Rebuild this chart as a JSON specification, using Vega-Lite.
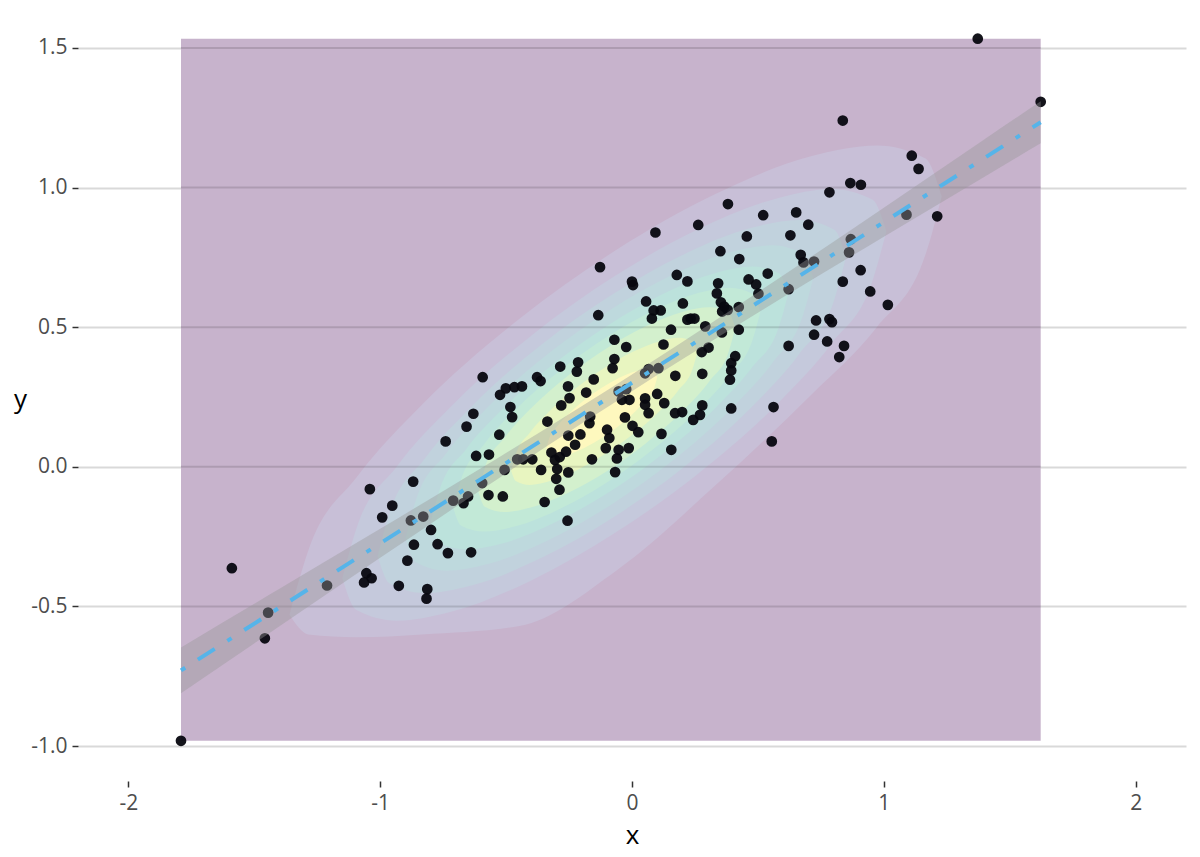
{
  "$schema": "https://vega.github.io/schema/vega-lite/v6.json",
  "width": 1108,
  "height": 768,
  "autosize": "none",
  "padding": {"left": 78, "top": 13, "right": 14, "bottom": 76},
  "background": "white",
  "config": {
    "view": {"stroke": null},
    "font": "Open Sans",
    "locale": {"number": {"decimal": ".", "thousands": ",", "grouping": [3], "currency": ["$", ""], "minus": "-"}},
    "axis": {
      "domain": false,
      "labelFont": "Open Sans",
      "titleFont": "Open Sans",
      "labelFontSize": 21,
      "labelColor": "#4D4D4D",
      "titleFontSize": 26,
      "titleFontWeight": "normal",
      "titleColor": "#000000",
      "tickColor": "#333333",
      "tickWidth": 1.5,
      "tickSize": 6,
      "labelPadding": 5,
      "gridColor": "#D9D9D9",
      "gridWidth": 2
    }
  },
  "datasets": {
    "pts": [
      {"x": 0.837, "y": 1.240}, {"x": 1.111, "y": 1.114}, {"x": 1.138, "y": 1.067}, {"x": 0.867, "y": 1.016},
      {"x": 0.909, "y": 1.010}, {"x": 0.784, "y": 0.983}, {"x": 0.381, "y": 0.941}, {"x": 0.521, "y": 0.901},
      {"x": 0.652, "y": 0.911}, {"x": 0.700, "y": 0.867}, {"x": 1.212, "y": 0.897}, {"x": 1.090, "y": 0.903},
      {"x": 0.263, "y": 0.866}, {"x": 0.093, "y": 0.839}, {"x": 0.456, "y": 0.825}, {"x": 0.629, "y": 0.829},
      {"x": 0.351, "y": 0.772}, {"x": 0.426, "y": 0.744}, {"x": 0.670, "y": 0.759}, {"x": 0.681, "y": 0.732},
      {"x": 0.723, "y": 0.735}, {"x": 0.869, "y": 0.815}, {"x": 0.862, "y": 0.768}, {"x": -0.127, "y": 0.715},
      {"x": 0.178, "y": 0.687}, {"x": 0.220, "y": 0.664}, {"x": 0.000, "y": 0.663}, {"x": 0.004, "y": 0.651},
      {"x": 0.539, "y": 0.692}, {"x": 0.463, "y": 0.671}, {"x": 0.493, "y": 0.653}, {"x": 0.502, "y": 0.620},
      {"x": 0.342, "y": 0.657}, {"x": 0.337, "y": 0.621}, {"x": 0.908, "y": 0.704}, {"x": 0.837, "y": 0.663},
      {"x": 0.946, "y": 0.628}, {"x": 1.016, "y": 0.580}, {"x": 0.622, "y": 0.636}, {"x": 0.056, "y": 0.592},
      {"x": 0.202, "y": 0.585}, {"x": 0.353, "y": 0.589}, {"x": 0.366, "y": 0.574}, {"x": 0.358, "y": 0.556},
      {"x": 0.380, "y": 0.562}, {"x": 0.424, "y": 0.572}, {"x": 0.086, "y": 0.560}, {"x": 0.114, "y": 0.560},
      {"x": 0.079, "y": 0.531}, {"x": -0.134, "y": 0.543}, {"x": 0.233, "y": 0.531}, {"x": 0.248, "y": 0.531},
      {"x": 0.220, "y": 0.527}, {"x": 0.291, "y": 0.503}, {"x": 0.357, "y": 0.481}, {"x": 0.424, "y": 0.491},
      {"x": 0.155, "y": 0.491}, {"x": 0.731, "y": 0.524}, {"x": 0.784, "y": 0.529}, {"x": 0.794, "y": 0.518},
      {"x": 0.723, "y": 0.473}, {"x": 0.775, "y": 0.449}, {"x": 0.842, "y": 0.433}, {"x": 0.823, "y": 0.393},
      {"x": 0.622, "y": 0.433}, {"x": -0.070, "y": 0.455}, {"x": -0.023, "y": 0.429}, {"x": 0.125, "y": 0.438},
      {"x": 0.304, "y": 0.427}, {"x": 0.277, "y": 0.411}, {"x": 0.410, "y": 0.396}, {"x": 0.394, "y": 0.371},
      {"x": 0.394, "y": 0.345}, {"x": 0.389, "y": 0.312}, {"x": -0.070, "y": 0.386}, {"x": -0.077, "y": 0.353},
      {"x": -0.214, "y": 0.374}, {"x": -0.219, "y": 0.341}, {"x": -0.285, "y": 0.359}, {"x": 0.066, "y": 0.350},
      {"x": 0.052, "y": 0.335}, {"x": 0.105, "y": 0.353}, {"x": 0.172, "y": 0.326}, {"x": 0.279, "y": 0.333},
      {"x": -0.152, "y": 0.313}, {"x": -0.593, "y": 0.321}, {"x": -0.377, "y": 0.321}, {"x": -0.363, "y": 0.307},
      {"x": -0.524, "y": 0.258}, {"x": -0.501, "y": 0.281}, {"x": -0.467, "y": 0.285}, {"x": -0.437, "y": 0.288},
      {"x": -0.254, "y": 0.288}, {"x": -0.248, "y": 0.246}, {"x": -0.182, "y": 0.266}, {"x": -0.053, "y": 0.270},
      {"x": -0.023, "y": 0.278}, {"x": -0.010, "y": 0.240}, {"x": -0.040, "y": 0.240}, {"x": 0.052, "y": 0.245},
      {"x": 0.052, "y": 0.222}, {"x": 0.066, "y": 0.192}, {"x": 0.100, "y": 0.261}, {"x": 0.128, "y": 0.228},
      {"x": 0.279, "y": 0.220}, {"x": 0.270, "y": 0.186}, {"x": 0.243, "y": 0.168}, {"x": 0.394, "y": 0.209},
      {"x": 0.562, "y": 0.214}, {"x": -0.483, "y": 0.214}, {"x": -0.476, "y": 0.178}, {"x": -0.630, "y": 0.190},
      {"x": -0.657, "y": 0.144}, {"x": -0.281, "y": 0.220}, {"x": -0.336, "y": 0.162}, {"x": -0.166, "y": 0.180},
      {"x": -0.169, "y": 0.156}, {"x": -0.028, "y": 0.177}, {"x": 0.171, "y": 0.192}, {"x": 0.199, "y": 0.196},
      {"x": -0.527, "y": 0.115}, {"x": -0.740, "y": 0.091}, {"x": -0.253, "y": 0.112}, {"x": -0.205, "y": 0.116},
      {"x": -0.226, "y": 0.079}, {"x": -0.099, "y": 0.133}, {"x": -0.090, "y": 0.103}, {"x": 0.002, "y": 0.147},
      {"x": 0.025, "y": 0.124}, {"x": 0.117, "y": 0.118}, {"x": -0.104, "y": 0.067}, {"x": -0.053, "y": 0.061},
      {"x": -0.013, "y": 0.067}, {"x": 0.156, "y": 0.061}, {"x": 0.555, "y": 0.091}, {"x": -0.619, "y": 0.039},
      {"x": -0.568, "y": 0.044}, {"x": -0.456, "y": 0.027}, {"x": -0.432, "y": 0.027}, {"x": -0.396, "y": 0.027},
      {"x": -0.320, "y": 0.051}, {"x": -0.306, "y": 0.025}, {"x": -0.287, "y": 0.035}, {"x": -0.262, "y": 0.054},
      {"x": -0.159, "y": 0.027}, {"x": -0.060, "y": 0.030}, {"x": -0.361, "y": -0.011}, {"x": -0.297, "y": -0.008},
      {"x": -0.253, "y": -0.020}, {"x": -0.301, "y": -0.043}, {"x": -0.067, "y": -0.019}, {"x": -0.506, "y": -0.011},
      {"x": -0.595, "y": -0.058}, {"x": -0.869, "y": -0.053}, {"x": -1.041, "y": -0.080}, {"x": -0.288, "y": -0.082},
      {"x": -0.570, "y": -0.101}, {"x": -0.513, "y": -0.106}, {"x": -0.651, "y": -0.106}, {"x": -0.669, "y": -0.130},
      {"x": -0.710, "y": -0.121}, {"x": -0.347, "y": -0.126}, {"x": -0.952, "y": -0.139}, {"x": -0.992, "y": -0.181},
      {"x": -0.878, "y": -0.192}, {"x": -0.829, "y": -0.178}, {"x": -0.798, "y": -0.226}, {"x": -0.256, "y": -0.193},
      {"x": -0.866, "y": -0.279}, {"x": -0.772, "y": -0.277}, {"x": -0.731, "y": -0.309}, {"x": -0.639, "y": -0.306},
      {"x": -0.892, "y": -0.336}, {"x": -1.055, "y": -0.381}, {"x": -1.034, "y": -0.399}, {"x": -1.064, "y": -0.414},
      {"x": -0.926, "y": -0.426}, {"x": -0.813, "y": -0.438}, {"x": -0.816, "y": -0.472}, {"x": -1.211, "y": -0.425},
      {"x": -1.445, "y": -0.522}, {"x": -1.458, "y": -0.614}, {"x": -1.791, "y": -0.981}, {"x": -1.589, "y": -0.363},
      {"x": 1.373, "y": 1.533}, {"x": 1.623, "y": 1.307}
    ],
    "contours": [
      {"l": 2, "x": -1.36, "lo": -0.53, "hi": -0.53}, {"l": 2, "x": -1.2855, "lo": -0.6, "hi": -0.3},
      {"l": 2, "x": -1.092, "lo": -0.61, "hi": -0.036}, {"l": 2, "x": -0.834, "lo": -0.6, "hi": 0.222},
      {"l": 2, "x": -0.447, "lo": -0.57, "hi": 0.53}, {"l": 2, "x": -0.06, "lo": -0.37, "hi": 0.778},
      {"l": 2, "x": 0.327, "lo": -0.07, "hi": 0.975}, {"l": 2, "x": 0.714, "lo": 0.26, "hi": 1.113},
      {"l": 2, "x": 0.972, "lo": 0.5, "hi": 1.151}, {"l": 2, "x": 1.1655, "lo": 0.76, "hi": 1.104},
      {"l": 2, "x": 1.23, "lo": 0.969, "hi": 0.969},

      {"l": 3, "x": -1.15, "lo": -0.399, "hi": -0.399}, {"l": 3, "x": -1.096, "lo": -0.512, "hi": -0.225},
      {"l": 3, "x": -0.934, "lo": -0.551, "hi": 0.001}, {"l": 3, "x": -0.718, "lo": -0.519, "hi": 0.217},
      {"l": 3, "x": -0.394, "lo": -0.404, "hi": 0.474}, {"l": 3, "x": -0.07, "lo": -0.238, "hi": 0.682},
      {"l": 3, "x": 0.254, "lo": -0.031, "hi": 0.847}, {"l": 3, "x": 0.578, "lo": 0.226, "hi": 0.962},
      {"l": 3, "x": 0.794, "lo": 0.443, "hi": 0.995}, {"l": 3, "x": 0.956, "lo": 0.669, "hi": 0.956},
      {"l": 3, "x": 1.01, "lo": 0.843, "hi": 0.843},

      {"l": 4, "x": -1.01, "lo": -0.319, "hi": -0.319}, {"l": 4, "x": -0.9635, "lo": -0.417, "hi": -0.167},
      {"l": 4, "x": -0.824, "lo": -0.452, "hi": 0.028}, {"l": 4, "x": -0.638, "lo": -0.425, "hi": 0.215},
      {"l": 4, "x": -0.359, "lo": -0.326, "hi": 0.438}, {"l": 4, "x": -0.08, "lo": -0.184, "hi": 0.616},
      {"l": 4, "x": 0.199, "lo": -0.006, "hi": 0.758}, {"l": 4, "x": 0.478, "lo": 0.217, "hi": 0.857},
      {"l": 4, "x": 0.664, "lo": 0.404, "hi": 0.884}, {"l": 4, "x": 0.8035, "lo": 0.599, "hi": 0.849},
      {"l": 4, "x": 0.85, "lo": 0.751, "hi": 0.751},

      {"l": 5, "x": -0.9, "lo": -0.256, "hi": -0.256}, {"l": 5, "x": -0.8595, "lo": -0.341, "hi": -0.123},
      {"l": 5, "x": -0.738, "lo": -0.372, "hi": 0.048}, {"l": 5, "x": -0.576, "lo": -0.349, "hi": 0.211},
      {"l": 5, "x": -0.333, "lo": -0.263, "hi": 0.405}, {"l": 5, "x": -0.09, "lo": -0.14, "hi": 0.56},
      {"l": 5, "x": 0.153, "lo": 0.016, "hi": 0.684}, {"l": 5, "x": 0.396, "lo": 0.21, "hi": 0.77},
      {"l": 5, "x": 0.558, "lo": 0.373, "hi": 0.793}, {"l": 5, "x": 0.6795, "lo": 0.544, "hi": 0.762},
      {"l": 5, "x": 0.72, "lo": 0.676, "hi": 0.676},

      {"l": 6, "x": -0.8, "lo": -0.198, "hi": -0.198}, {"l": 6, "x": -0.7645, "lo": -0.272, "hi": -0.084},
      {"l": 6, "x": -0.658, "lo": -0.296, "hi": 0.064}, {"l": 6, "x": -0.516, "lo": -0.275, "hi": 0.205},
      {"l": 6, "x": -0.303, "lo": -0.198, "hi": 0.374}, {"l": 6, "x": -0.09, "lo": -0.09, "hi": 0.51},
      {"l": 6, "x": 0.123, "lo": 0.047, "hi": 0.619}, {"l": 6, "x": 0.336, "lo": 0.215, "hi": 0.695},
      {"l": 6, "x": 0.478, "lo": 0.357, "hi": 0.717}, {"l": 6, "x": 0.5845, "lo": 0.504, "hi": 0.692},
      {"l": 6, "x": 0.62, "lo": 0.619, "hi": 0.619},

      {"l": 7, "x": -0.71, "lo": -0.146, "hi": -0.146}, {"l": 7, "x": -0.6795, "lo": -0.21, "hi": -0.048},
      {"l": 7, "x": -0.588, "lo": -0.232, "hi": 0.08}, {"l": 7, "x": -0.466, "lo": -0.214, "hi": 0.202},
      {"l": 7, "x": -0.283, "lo": -0.149, "hi": 0.347}, {"l": 7, "x": -0.1, "lo": -0.056, "hi": 0.465},
      {"l": 7, "x": 0.083, "lo": 0.062, "hi": 0.558}, {"l": 7, "x": 0.266, "lo": 0.207, "hi": 0.623},
      {"l": 7, "x": 0.388, "lo": 0.329, "hi": 0.641}, {"l": 7, "x": 0.4795, "lo": 0.457, "hi": 0.619},
      {"l": 7, "x": 0.51, "lo": 0.555, "hi": 0.555},

      {"l": 8, "x": -0.61, "lo": -0.089, "hi": -0.089}, {"l": 8, "x": -0.5845, "lo": -0.143, "hi": -0.005},
      {"l": 8, "x": -0.508, "lo": -0.162, "hi": 0.102}, {"l": 8, "x": -0.406, "lo": -0.147, "hi": 0.205},
      {"l": 8, "x": -0.253, "lo": -0.093, "hi": 0.327}, {"l": 8, "x": -0.1, "lo": -0.016, "hi": 0.425},
      {"l": 8, "x": 0.053, "lo": 0.083, "hi": 0.502}, {"l": 8, "x": 0.206, "lo": 0.204, "hi": 0.556},
      {"l": 8, "x": 0.308, "lo": 0.307, "hi": 0.571}, {"l": 8, "x": 0.3845, "lo": 0.414, "hi": 0.552},
      {"l": 8, "x": 0.41, "lo": 0.498, "hi": 0.498},

      {"l": 9, "x": -0.48, "lo": -0.014, "hi": -0.014}, {"l": 9, "x": -0.4615, "lo": -0.051, "hi": 0.045},
      {"l": 9, "x": -0.406, "lo": -0.065, "hi": 0.122}, {"l": 9, "x": -0.332, "lo": -0.053, "hi": 0.195},
      {"l": 9, "x": -0.221, "lo": -0.013, "hi": 0.283}, {"l": 9, "x": -0.11, "lo": 0.044, "hi": 0.354},
      {"l": 9, "x": 0.001, "lo": 0.115, "hi": 0.411}, {"l": 9, "x": 0.112, "lo": 0.202, "hi": 0.45},
      {"l": 9, "x": 0.186, "lo": 0.276, "hi": 0.462}, {"l": 9, "x": 0.2415, "lo": 0.353, "hi": 0.449},
      {"l": 9, "x": 0.26, "lo": 0.412, "hi": 0.412},

      {"l": 10, "x": -0.34, "lo": 0.067, "hi": 0.067}, {"l": 10, "x": -0.329, "lo": 0.045, "hi": 0.101},
      {"l": 10, "x": -0.296, "lo": 0.038, "hi": 0.146}, {"l": 10, "x": -0.252, "lo": 0.045, "hi": 0.189},
      {"l": 10, "x": -0.186, "lo": 0.069, "hi": 0.241}, {"l": 10, "x": -0.12, "lo": 0.103, "hi": 0.283},
      {"l": 10, "x": -0.054, "lo": 0.145, "hi": 0.317}, {"l": 10, "x": 0.012, "lo": 0.197, "hi": 0.341},
      {"l": 10, "x": 0.056, "lo": 0.24, "hi": 0.348}, {"l": 10, "x": 0.089, "lo": 0.285, "hi": 0.341},
      {"l": 10, "x": 0.1, "lo": 0.32, "hi": 0.32}
    ],
    "fit": [
      {"x": -1.791, "fit": -0.729, "lo": -0.811, "hi": -0.647},
      {"x": -1.4, "fit": -0.504, "lo": -0.571, "hi": -0.437},
      {"x": -1.0, "fit": -0.274, "lo": -0.326, "hi": -0.222},
      {"x": -0.6, "fit": -0.044, "lo": -0.083, "hi": -0.005},
      {"x": -0.2, "fit": 0.186, "lo": 0.155, "hi": 0.217},
      {"x": 0.0, "fit": 0.301, "lo": 0.271, "hi": 0.331},
      {"x": 0.2, "fit": 0.416, "lo": 0.385, "hi": 0.447},
      {"x": 0.6, "fit": 0.646, "lo": 0.607, "hi": 0.685},
      {"x": 1.0, "fit": 0.876, "lo": 0.824, "hi": 0.928},
      {"x": 1.4, "fit": 1.106, "lo": 1.039, "hi": 1.173},
      {"x": 1.623, "fit": 1.234, "lo": 1.159, "hi": 1.309}
    ]
  },
  "layer": [
    {
      "data": {"values": [{"x1": -1.791, "x2": 1.623, "y1": -0.981, "y2": 1.533}]},
      "mark": {"type": "rect", "fill": "#C7B3CC"},
      "encoding": {
        "x": {"field": "x1", "type": "quantitative", "title": "x",
              "scale": {"domain": [-2.2, 2.2], "nice": false, "zero": false},
              "axis": {"values": [-2, -1, 0, 1, 2], "grid": false, "format": "d", "titlePadding": 9}},
        "x2": {"field": "x2"},
        "y": {"field": "y1", "type": "quantitative", "title": "y",
              "scale": {"domain": [-1.125, 1.625], "nice": false, "zero": false},
              "axis": {"values": [-1, -0.5, 0, 0.5, 1, 1.5], "format": ".1f", "grid": true,
                       "titleAngle": 0, "titleX": -58, "titleY": 386, "titleAlign": "center", "titleBaseline": "middle"}},
        "y2": {"field": "y2"}
      }
    },
    {"data": {"name": "contours"}, "transform": [{"filter": "datum.l == 2"}],
     "mark": {"type": "area", "interpolate": "monotone", "fill": "#C8BFD7"},
     "encoding": {"x": {"field": "x", "type": "quantitative", "title": "x"}, "y": {"field": "lo", "type": "quantitative", "title": "y", "stack": null}, "y2": {"field": "hi"}}},
    {"data": {"name": "contours"}, "transform": [{"filter": "datum.l == 3"}],
     "mark": {"type": "area", "interpolate": "monotone", "fill": "#C5C9DC"},
     "encoding": {"x": {"field": "x", "type": "quantitative", "title": "x"}, "y": {"field": "lo", "type": "quantitative", "title": "y", "stack": null}, "y2": {"field": "hi"}}},
    {"data": {"name": "contours"}, "transform": [{"filter": "datum.l == 4"}],
     "mark": {"type": "area", "interpolate": "monotone", "fill": "#C1D2DD"},
     "encoding": {"x": {"field": "x", "type": "quantitative", "title": "x"}, "y": {"field": "lo", "type": "quantitative", "title": "y", "stack": null}, "y2": {"field": "hi"}}},
    {"data": {"name": "contours"}, "transform": [{"filter": "datum.l == 5"}],
     "mark": {"type": "area", "interpolate": "monotone", "fill": "#BED9DD"},
     "encoding": {"x": {"field": "x", "type": "quantitative", "title": "x"}, "y": {"field": "lo", "type": "quantitative", "title": "y", "stack": null}, "y2": {"field": "hi"}}},
    {"data": {"name": "contours"}, "transform": [{"filter": "datum.l == 6"}],
     "mark": {"type": "area", "interpolate": "monotone", "fill": "#BCE2DC"},
     "encoding": {"x": {"field": "x", "type": "quantitative", "title": "x"}, "y": {"field": "lo", "type": "quantitative", "title": "y", "stack": null}, "y2": {"field": "hi"}}},
    {"data": {"name": "contours"}, "transform": [{"filter": "datum.l == 7"}],
     "mark": {"type": "area", "interpolate": "monotone", "fill": "#C2E9D7"},
     "encoding": {"x": {"field": "x", "type": "quantitative", "title": "x"}, "y": {"field": "lo", "type": "quantitative", "title": "y", "stack": null}, "y2": {"field": "hi"}}},
    {"data": {"name": "contours"}, "transform": [{"filter": "datum.l == 8"}],
     "mark": {"type": "area", "interpolate": "monotone", "fill": "#D3F0CD"},
     "encoding": {"x": {"field": "x", "type": "quantitative", "title": "x"}, "y": {"field": "lo", "type": "quantitative", "title": "y", "stack": null}, "y2": {"field": "hi"}}},
    {"data": {"name": "contours"}, "transform": [{"filter": "datum.l == 9"}],
     "mark": {"type": "area", "interpolate": "monotone", "fill": "#E8F5C0"},
     "encoding": {"x": {"field": "x", "type": "quantitative", "title": "x"}, "y": {"field": "lo", "type": "quantitative", "title": "y", "stack": null}, "y2": {"field": "hi"}}},
    {"data": {"name": "contours"}, "transform": [{"filter": "datum.l == 10"}],
     "mark": {"type": "area", "interpolate": "monotone", "fill": "#FEF8BE"},
     "encoding": {"x": {"field": "x", "type": "quantitative", "title": "x"}, "y": {"field": "lo", "type": "quantitative", "title": "y", "stack": null}, "y2": {"field": "hi"}}},
    {
      "data": {"values": [{"g": -0.5}, {"g": 0}, {"g": 0.5}, {"g": 1}, {"g": 1.5}]},
      "mark": {"type": "rule", "color": "#000000", "opacity": 0.13, "strokeWidth": 2},
      "encoding": {
        "y": {"field": "g", "type": "quantitative", "title": "y"},
        "x": {"datum": -1.791},
        "x2": {"datum": 1.623}
      }
    },
    {
      "data": {"name": "pts"},
      "mark": {"type": "circle", "size": 115, "color": "#07070f", "opacity": 0.95},
      "encoding": {
        "x": {"field": "x", "type": "quantitative", "title": "x"},
        "y": {"field": "y", "type": "quantitative", "title": "y"}
      }
    },
    {
      "data": {"name": "fit"},
      "mark": {"type": "area", "interpolate": "monotone", "fill": "#999999", "opacity": 0.4},
      "encoding": {
        "x": {"field": "x", "type": "quantitative", "title": "x"},
        "y": {"field": "lo", "type": "quantitative", "title": "y", "stack": null},
        "y2": {"field": "hi"}
      }
    },
    {
      "data": {"name": "fit"},
      "mark": {"type": "line", "color": "#56B4E9", "strokeWidth": 4, "strokeDash": [5, 15, 20, 15], "strokeCap": "butt"},
      "encoding": {
        "x": {"field": "x", "type": "quantitative", "title": "x"},
        "y": {"field": "fit", "type": "quantitative", "title": "y"}
      }
    }
  ]
}
